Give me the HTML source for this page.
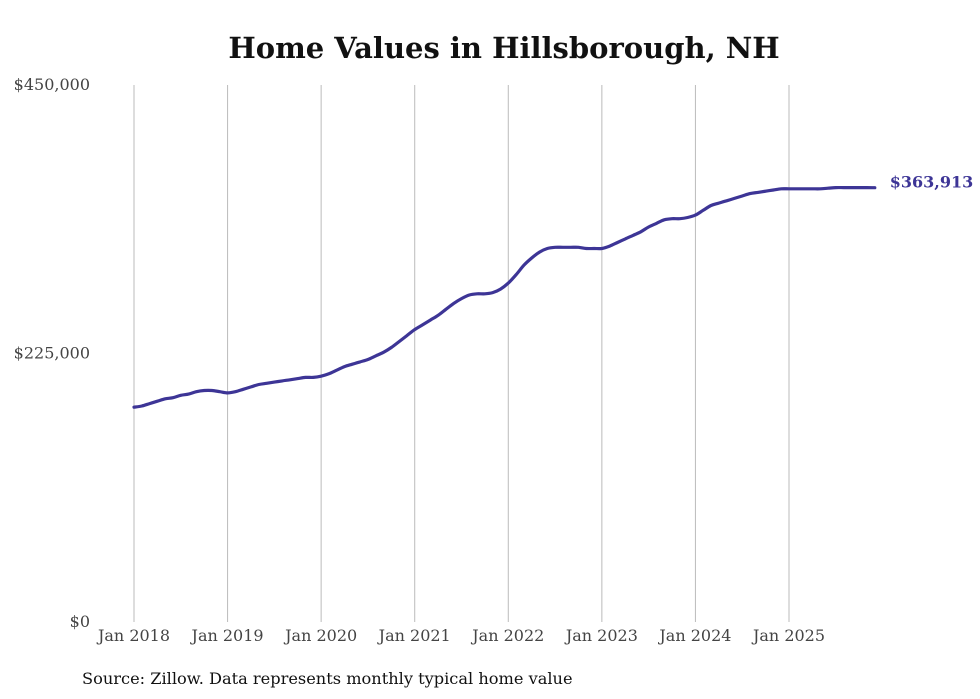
<!DOCTYPE html>
<html><head><meta charset="utf-8"><style>
html,body{margin:0;padding:0;background:#fff;}
svg{display:block;font-family:"DejaVu Serif","Liberation Serif",serif;}
</style></head><body>
<svg id="chart" width="980" height="699" viewBox="0 0 980 699">
<text x="504" y="58" text-anchor="middle" font-size="29" font-weight="bold" fill="#111">Home Values in Hillsborough, NH</text>
<g id="grid"></g>
<g id="yaxis"></g>
<g id="xaxis"></g>
<path id="line" fill="none" stroke="#3d3596" stroke-width="3.2" stroke-linejoin="round" stroke-linecap="round"/>
<text id="endLabel" font-size="16" font-weight="bold" fill="#3d3596"></text>
<text x="82" y="684" font-size="16.2" fill="#111">Source: Zillow. Data represents monthly typical home value</text>
</svg>
<script>
const yearLabels = ["Jan 2018","Jan 2019","Jan 2020","Jan 2021","Jan 2022","Jan 2023","Jan 2024","Jan 2025"];
const yTicks = [0,225000,450000];
const yTickLabels = ["$0","$225,000","$450,000"];
const values = [
180,181,183,185,187,188,190,191,193,194,194,193,
192,193,195,197,199,200,201,202,203,204,205,205,
206,208,211,214,216,218,220,223,226,230,235,240,
245,249,253,257,262,267,271,274,275,275,276,279,
284,291,299,305,310,313,314,314,314,314,313,313,
313,315,318,321,324,327,331,334,337,338,338,339,
341,345,349,351,353,355,357,359,360,361,362,363,
363,363,363,363,363,363.5,364,364,364,364,364,363.913
].map(v=>v*1000);
const lastLabel = "$363,913";

const NS="http://www.w3.org/2000/svg";
const x0=134, monthW=(789-134)/84;
const xs=i=>x0+i*monthW;
const ys=v=>622-v/450000*(622-85);
function mk(tag,attrs,parent){const e=document.createElementNS(NS,tag);for(const k in attrs)e.setAttribute(k,attrs[k]);parent.appendChild(e);return e;}
const grid=document.getElementById('grid'),ya=document.getElementById('yaxis'),xa=document.getElementById('xaxis');
yearLabels.forEach((lab,i)=>{
  const x=xs(i*12);
  const l=mk('line',{x1:x,x2:x,y1:85,y2:622,stroke:'#bbb','stroke-width':1},grid);
  
  
  const t=mk('text',{x:x,y:641,'text-anchor':'middle','font-size':16,fill:'#444'},xa);
  t.textContent=lab;
  
  
});
yTicks.forEach((v,i)=>{
  const t=mk('text',{x:90,y:ys(v)+5,'text-anchor':'end','font-size':16,fill:'#444'},ya);
  t.textContent=yTickLabels[i];
  
  
});
const pts=values.map((v,i)=>[xs(i),ys(v)]);
let d='M'+pts[0][0].toFixed(1)+','+pts[0][1].toFixed(1);
for(let i=0;i<pts.length-1;i++){
  const p0=pts[Math.max(0,i-1)],p1=pts[i],p2=pts[i+1],p3=pts[Math.min(pts.length-1,i+2)];
  const c1=[p1[0]+(p2[0]-p0[0])/6,p1[1]+(p2[1]-p0[1])/6];
  const c2=[p2[0]-(p3[0]-p1[0])/6,p2[1]-(p3[1]-p1[1])/6];
  d+='C'+c1[0].toFixed(1)+','+c1[1].toFixed(1)+' '+c2[0].toFixed(1)+','+c2[1].toFixed(1)+' '+p2[0].toFixed(1)+','+p2[1].toFixed(1);
}
document.getElementById('line').setAttribute('d',d);
const el=document.getElementById('endLabel');
const li=values.length-1;
el.setAttribute('x',xs(li)+15);el.setAttribute('y',ys(values[li])+0);
el.textContent=lastLabel;
</script>
</body></html>
